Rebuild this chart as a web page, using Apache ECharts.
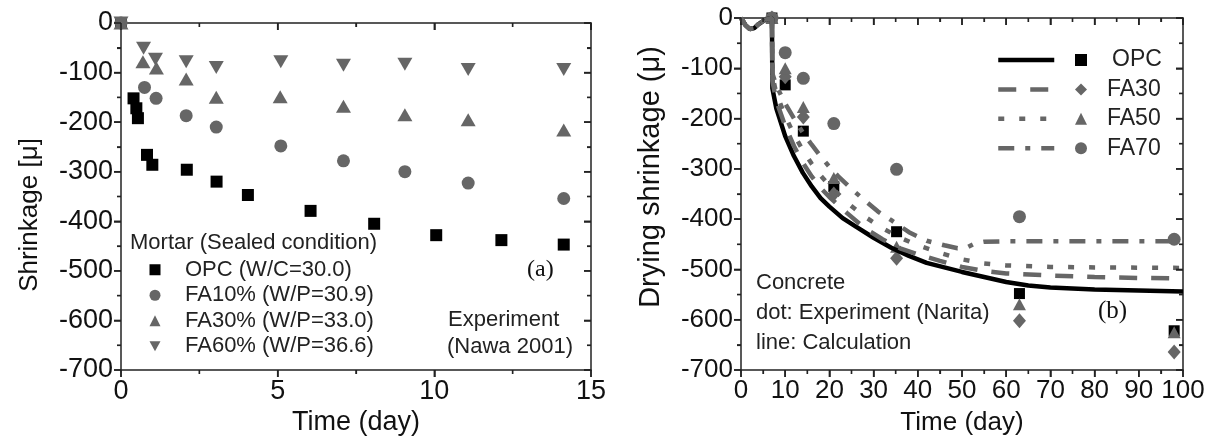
<!DOCTYPE html>
<html>
<head>
<meta charset="utf-8">
<script src="https://cdn.jsdelivr.net/npm/echarts@6/dist/echarts.min.js"></script>
<style>
html,body{margin:0;padding:0;background:#fff;}
#chart{width:1215px;height:445px;}
</style>
</head>
<body>
<div id="chart"></div>
<script>
// ---------- (a) Mortar, sealed condition (experiment) ----------
const mortarOPC  = [[0,0],[0.4,-152],[0.49,-172],[0.54,-192],[0.83,-266],[1.0,-286],[2.1,-296],[3.05,-320],[4.05,-347],[6.05,-379],[8.08,-405],[10.06,-428],[12.14,-438],[14.13,-447]];
const mortarFA10 = [[0,0],[0.75,-130],[1.12,-152],[2.08,-187],[3.04,-210],[5.1,-248],[7.1,-278],[9.06,-300],[11.08,-323],[14.13,-354]];
const mortarFA30 = [[0,0],[0.7,-78],[1.13,-91],[2.08,-113],[3.04,-150],[5.08,-149],[7.1,-168],[9.06,-185],[11.08,-195],[14.13,-216]];
const mortarFA60 = [[0,0],[0.72,-51],[1.1,-73],[2.08,-78],[3.04,-90],[5.1,-78],[7.1,-85],[9.06,-83],[11.08,-94],[14.13,-94]];
const leftNames  = ['OPC (W/C=30.0)','FA10% (W/P=30.9)','FA30% (W/P=33.0)','FA60% (W/P=36.6)'];

// ---------- (b) Concrete drying shrinkage ----------
const concOPC  = [[7,0],[10,-133],[14.1,-225],[21,-335],[35.2,-425],[63,-548],[98,-622]];
const concFA30 = [[7,0],[10,-117],[14.1,-197],[21,-350],[35.2,-478],[63,-602],[98,-664]];
const concFA50 = [[7,0],[10,-100],[14.1,-177],[21,-318],[35.2,-455],[63,-569],[98,-625]];
const concFA70 = [[7,0],[10,-69],[14.1,-120],[21,-210],[35.2,-301],[63,-395],[98,-440]];

const calcOPC  = [[0,0],[1,-14],[2,-22],[3,-20],[4,-12],[5,-6],[6,-2],[7,0],[7.1,-140],[8,-180],[10,-235],[12,-275],[14,-308],[16,-335],[18,-358],[20,-375],[23,-398],[26,-415],[30,-437],[34,-457],[38,-473],[42,-487],[46,-496],[50,-505],[55,-515],[60,-525],[65,-532],[70,-536],[80,-540],[90,-542],[100,-544]];
const calcFA30 = [[0,0],[1,-14],[2,-22],[3,-20],[4,-12],[5,-6],[6,-2],[7,0],[7.1,-125],[8,-165],[10,-215],[12,-255],[14,-288],[16,-315],[18,-338],[20,-356],[24,-388],[28,-418],[32,-440],[36,-458],[40,-470],[45,-483],[50,-495],[55,-503],[60,-508],[70,-512],[80,-515],[90,-517],[100,-518]];
const calcFA50 = [[0,0],[1,-14],[2,-22],[3,-20],[4,-12],[5,-6],[6,-2],[7,0],[7.1,-115],[8,-150],[10,-195],[12,-232],[14,-263],[16,-290],[18,-313],[20,-333],[24,-367],[28,-395],[32,-418],[36,-437],[40,-452],[45,-467],[50,-480],[55,-488],[60,-492],[70,-495],[80,-496],[100,-497]];
const calcFA70 = [[0,0],[1,-14],[2,-22],[3,-20],[4,-12],[5,-6],[6,-2],[7,0],[7.1,-110],[8,-135],[10,-170],[12,-200],[14,-228],[16,-252],[18,-275],[20,-296],[22,-315],[25,-340],[28,-363],[31,-385],[34,-402],[38,-426],[42,-443],[46,-452],[49,-458],[51,-457],[53,-448],[55,-445],[60,-444],[100,-444]];
const rightNames = ['OPC','FA30','FA50','FA70'];

// ---------- tick positions (major + minor) ----------
const leftXTicks  = [0, 2.5, 5, 7.5, 10, 12.5, 15];
const rightXTicks = [0, 5, 10, 15, 20, 25, 30, 35, 40, 45, 50, 55, 60, 65, 70, 75, 80, 85, 90, 95, 100];
const yTicks      = [0, -50, -100, -150, -200, -250, -300, -350, -400, -450, -500, -550, -600, -650, -700];

const BLACK = '#000000';
const GRAY = '#666666';
const FONT = '"Liberation Sans", Arial, sans-serif';
const SERIF = '"Liberation Serif", "Times New Roman", serif';

function axisBase(extra) {
  return Object.assign({
    type: 'value',
    axisLine: { show: true, onZero: false, lineStyle: { color: '#222', width: 1.5 } },
    axisTick: { show: true, length: 7, lineStyle: { color: '#222', width: 1.5 } },
    minorTick: { show: true, splitNumber: 2, length: 4, lineStyle: { color: '#222', width: 1.2 } },
    splitLine: { show: false }
  }, extra);
}
function mirror(base) {
  base.axisLabel = { show: false };
  base.axisTick.inside = true;
  return base;
}
const labelStyle = (size) => ({ fontSize: size, color: '#111', margin: 8 });

// tick marks on all four edges of a frame, placed through the axis scales
function tickData(xTicks, yTicks, xMin, xMax, yMin, yMax, xMajor, yMajor) {
  const out = [];
  xTicks.forEach(v => {
    const L = (v % xMajor === 0) ? 7 : 4;
    out.push([v, yMin, 0, L]);   // bottom, outward
    out.push([v, yMax, 0, L]);   // top, inward
  });
  yTicks.forEach(v => {
    const L = (v % yMajor === 0) ? 7 : 4;
    out.push([xMin, v, -L, 0]);  // left, outward
    out.push([xMax, v, -L, 0]);  // right, inward
  });
  return out;
}
function tickRender(params, api) {
  const p = api.coord([api.value(0), api.value(1)]);
  return {
    type: 'line',
    shape: { x1: p[0], y1: p[1], x2: p[0] + api.value(2), y2: p[1] + api.value(3) },
    style: { stroke: '#222', lineWidth: 1.5 }
  };
}

const option = {
  animation: false,
  grid: [
    { left: 121, top: 23, width: 470, height: 347 },
    { left: 741, top: 18, width: 442, height: 352 }
  ],
  xAxis: [
    axisBase({ gridIndex: 0, min: 0, max: 15, interval: 5, position: 'bottom', axisLabel: labelStyle(27) }),
    mirror(axisBase({ gridIndex: 0, min: 0, max: 15, interval: 5, position: 'top' })),
    axisBase({ gridIndex: 1, min: 0, max: 100, interval: 10, position: 'bottom', axisLabel: labelStyle(26) }),
    mirror(axisBase({ gridIndex: 1, min: 0, max: 100, interval: 10, position: 'top' }))
  ],
  yAxis: [
    axisBase({ gridIndex: 0, min: -700, max: 0, interval: 100, position: 'left', axisLabel: labelStyle(27) }),
    mirror(axisBase({ gridIndex: 0, min: -700, max: 0, interval: 100, position: 'right' })),
    axisBase({ gridIndex: 1, min: -700, max: 0, interval: 100, position: 'left', axisLabel: labelStyle(26) }),
    mirror(axisBase({ gridIndex: 1, min: -700, max: 0, interval: 100, position: 'right' }))
  ],
  legend: [
    { data: [
        { name: leftNames[0], icon: 'rect' },
        { name: leftNames[1], icon: 'circle' },
        { name: leftNames[2], icon: 'triangle' },
        { name: leftNames[3], icon: 'path://M0,0L10,0L5,9Z' }
      ],
      orient: 'vertical', left: 149.5, top: 257, itemWidth: 11, itemHeight: 11,
      itemGap: 0, padding: 0, selectedMode: false,
      textStyle: { fontFamily: FONT, fontSize: 22, color: '#222', lineHeight: 25.5, padding: [0, 0, 0, 19.5] } },
    { data: [
        { name: 'OPC', icon: 'rect', textStyle: { padding: [0, 0, 0, 20] } },
        { name: 'FA30', icon: 'diamond' },
        { name: 'FA50', icon: 'triangle' },
        { name: 'FA70', icon: 'circle' }
      ],
      orient: 'vertical', left: 1075, top: 45.3, itemWidth: 12, itemHeight: 12,
      itemGap: 0, padding: 0, selectedMode: false,
      textStyle: { fontFamily: FONT, fontSize: 23, color: '#222', lineHeight: 29.4, padding: [0, 0, 0, 15] } },
    { data: rightNames.map(n => n + ' calc'), orient: 'vertical', left: 996, top: 45.3, itemWidth: 56, itemHeight: 1,
      itemGap: 0, padding: 0, selectedMode: false, formatter: () => ' ',
      itemStyle: { opacity: 0 },
      lineStyle: { width: 4.5 },
      textStyle: { fontSize: 23, color: '#222', lineHeight: 29.4 } }
  ],
  series: [
    // (a)
    { name: leftNames[0], type: 'scatter', xAxisIndex: 0, yAxisIndex: 0, data: mortarOPC, clip: false,
      symbol: 'rect', symbolSize: 12, itemStyle: { color: BLACK, opacity: 1 } },
    { name: leftNames[1], type: 'scatter', xAxisIndex: 0, yAxisIndex: 0, data: mortarFA10, clip: false,
      symbol: 'circle', symbolSize: 13, itemStyle: { color: GRAY, opacity: 1 } },
    { name: leftNames[2], type: 'scatter', xAxisIndex: 0, yAxisIndex: 0, data: mortarFA30, clip: false,
      symbol: 'triangle', symbolSize: [15, 13], itemStyle: { color: GRAY, opacity: 1 } },
    { name: leftNames[3], type: 'scatter', xAxisIndex: 0, yAxisIndex: 0, data: mortarFA60, clip: false,
      symbol: 'triangle', symbolRotate: 180, symbolSize: [15, 13], itemStyle: { color: GRAY, opacity: 1 } },
    // (b) calculation lines
    { name: 'OPC calc', type: 'line', xAxisIndex: 2, yAxisIndex: 2, data: calcOPC, symbol: 'none', showSymbol: false,
      lineStyle: { color: BLACK, width: 4.5 }, itemStyle: { color: BLACK } },
    { name: 'FA30 calc', type: 'line', xAxisIndex: 2, yAxisIndex: 2, data: calcFA30, symbol: 'none', showSymbol: false,
      lineStyle: { color: GRAY, width: 4.5, type: [18, 14] }, itemStyle: { color: GRAY } },
    { name: 'FA50 calc', type: 'line', xAxisIndex: 2, yAxisIndex: 2, data: calcFA50, symbol: 'none', showSymbol: false,
      lineStyle: { color: GRAY, width: 4.5, type: [6, 15] }, itemStyle: { color: GRAY } },
    { name: 'FA70 calc', type: 'line', xAxisIndex: 2, yAxisIndex: 2, data: calcFA70, symbol: 'none', showSymbol: false,
      lineStyle: { color: GRAY, width: 4.5, type: [16, 11, 5, 11] }, itemStyle: { color: GRAY } },
    // (b) experiment dots
    { name: 'OPC', type: 'scatter', xAxisIndex: 2, yAxisIndex: 2, data: concOPC, clip: false,
      symbol: 'rect', symbolSize: 11, itemStyle: { color: BLACK, opacity: 1 } },
    { name: 'FA30', type: 'scatter', xAxisIndex: 2, yAxisIndex: 2, data: concFA30, clip: false,
      symbol: 'diamond', symbolSize: [13, 15], itemStyle: { color: GRAY, opacity: 1 } },
    { name: 'FA50', type: 'scatter', xAxisIndex: 2, yAxisIndex: 2, data: concFA50, clip: false,
      symbol: 'triangle', symbolSize: [13, 12], itemStyle: { color: GRAY, opacity: 1 } },
    { name: 'FA70', type: 'scatter', xAxisIndex: 2, yAxisIndex: 2, data: concFA70, clip: false,
      symbol: 'circle', symbolSize: 13, itemStyle: { color: GRAY, opacity: 1 } },
    // frame tick marks
    { type: 'custom', xAxisIndex: 0, yAxisIndex: 0, clip: false, silent: true, z: 10, encode: { x: 0, y: 1 },
      data: tickData(leftXTicks, yTicks, 0, 15, -700, 0, 5, 100), renderItem: tickRender },
    { type: 'custom', xAxisIndex: 2, yAxisIndex: 2, clip: false, silent: true, z: 10, encode: { x: 0, y: 1 },
      data: tickData(rightXTicks, yTicks, 0, 100, -700, 0, 10, 100), renderItem: tickRender }
  ],
  graphic: [
    // axis titles
    { type: 'text', x: 356, y: 423, style: { text: 'Time (day)', font: '27px ' + FONT, fill: '#111', align: 'center', verticalAlign: 'middle' } },
    { type: 'text', x: 962, y: 423, style: { text: 'Time (day)', font: '26px ' + FONT, fill: '#111', align: 'center', verticalAlign: 'middle' } },
    { type: 'text', x: 30, y: 215, rotation: Math.PI / 2, style: { text: 'Shrinkage [\u03bc]', font: '26px ' + FONT, fill: '#111', align: 'center', verticalAlign: 'middle' } },
    { type: 'text', x: 651, y: 177, rotation: Math.PI / 2, style: { text: 'Drying shrinkage (\u03bc)', font: '29px ' + FONT, fill: '#111', align: 'center', verticalAlign: 'middle' } },
    // annotations
    { type: 'text', x: 130, y: 243, style: { text: 'Mortar (Sealed condition)', font: '22px ' + FONT, fill: '#222', verticalAlign: 'middle' } },
    { type: 'text', x: 448, y: 320, style: { text: 'Experiment', font: '22px ' + FONT, fill: '#222', verticalAlign: 'middle' } },
    { type: 'text', x: 447, y: 347, style: { text: '(Nawa 2001)', font: '22px ' + FONT, fill: '#222', verticalAlign: 'middle' } },
    { type: 'text', x: 527, y: 270, style: { text: '(a)', font: '24px ' + SERIF, fill: '#111', verticalAlign: 'middle' } },
    { type: 'text', x: 756, y: 283, style: { text: 'Concrete', font: '22px ' + FONT, fill: '#222', verticalAlign: 'middle' } },
    { type: 'text', x: 756, y: 313, style: { text: 'dot: Experiment (Narita)', font: '22px ' + FONT, fill: '#222', verticalAlign: 'middle' } },
    { type: 'text', x: 756, y: 343, style: { text: 'line: Calculation', font: '22px ' + FONT, fill: '#222', verticalAlign: 'middle' } },
    { type: 'text', x: 1098, y: 311, style: { text: '(b)', font: '25px ' + SERIF, fill: '#111', verticalAlign: 'middle' } }
  ]
};

const chart = echarts.init(document.getElementById('chart'));
chart.setOption(option);
</script>
</body>
</html>
